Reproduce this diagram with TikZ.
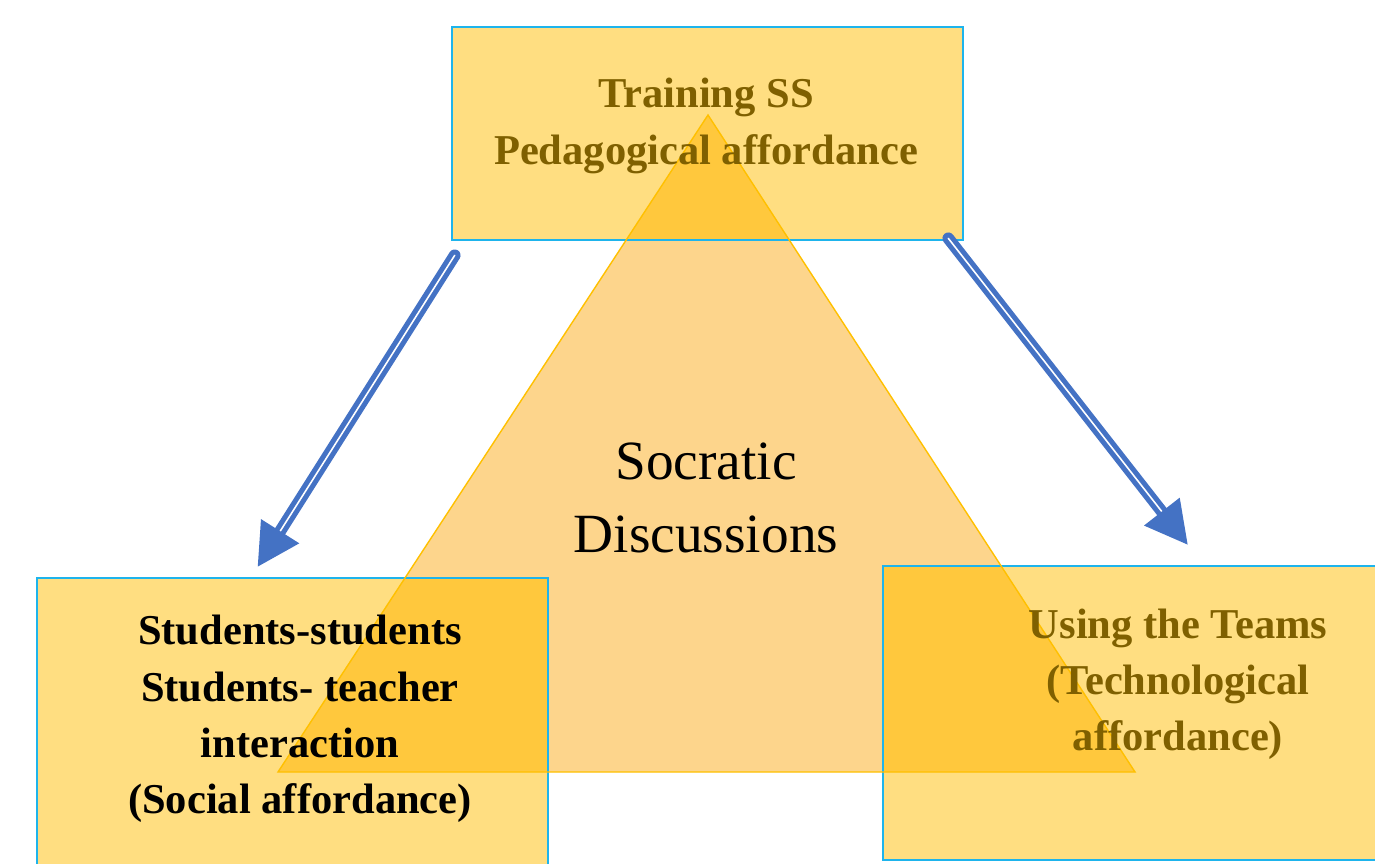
\documentclass[tikz,border=0pt]{standalone}
\usepackage{fontspec}
\setmainfont{Liberation Serif}
\usetikzlibrary{calc}
\usetikzlibrary{arrows.meta}
\definecolor{boxyellow}{HTML}{FFDE81}
\definecolor{trifill}{HTML}{FDD58C}
\definecolor{overlapfill}{HTML}{FFC83D}
\definecolor{triedge}{HTML}{FFC000}
\definecolor{boxedge}{HTML}{1EB4EC}
\definecolor{arrowblue}{HTML}{4472C4}
\definecolor{labelbrown}{HTML}{7F6000}
\tikzset{>=latex}

\begin{document}
\begin{tikzpicture}[x=0.02cm,y=-0.02cm,
		affbox/.style={fill=boxyellow,inner sep=0pt},
		boxtext/.style={font=\bfseries\fontsize{24.2}{32}\selectfont,align=center},
		flow/.style={draw=arrowblue,line width=2.9pt,double=white,double distance=0.9pt,line cap=round,
			-{Triangle[length=0.84cm,width=0.88cm]}}]
			\useasboundingbox (0,0) rectangle (1375,863);
			\clip (0,0) rectangle (1375,863);
			\coordinate (A) at (708,115);
			\coordinate (B) at (278,772);
			\coordinate (C) at (1135,772);
			\node[affbox,minimum width=10.22cm,minimum height=4.26cm] (ped) at (707.5,133.5) {};
			\node[affbox,minimum width=10.22cm,minimum height=6.24cm] (social) at (292.5,734) {};
			\node[affbox,minimum width=10.34cm,minimum height=5.88cm] (tech) at (1141.5,713) {};
			\fill[trifill] (A)--(B)--(C)--cycle;
			\begin{scope}
				\clip (A)--(B)--(C)--cycle;
				\foreach \b in {ped,social,tech}
					\fill[overlapfill] (\b.south west) rectangle (\b.north east);
			\end{scope}
			\foreach \b in {ped,social,tech}
				\draw[boxedge,line width=1pt] (\b.south west) rectangle (\b.north east);
			\draw[triedge,line width=0.8pt] (A)--(B)--(C)--cycle;
			
			\node[boxtext,text=labelbrown] (pedtxt) at (706,126) {Training SS\\Pedagogical affordance};
			\node[boxtext] (socialtxt) at (300,719) {Students-students\\Students- teacher\\interaction\\(Social affordance)};
			\node[boxtext,text=labelbrown] (techtxt) at (1178,684) {Using the Teams\\(Technological\\affordance)};
			\node[font=\fontsize{31.5}{41.5}\selectfont,align=center] (socratic) at (706,498) {Socratic\\Discussions};
			
			\draw[flow] ($(ped.south west)+(3,15)$)--($(social.north west)+(221,-11)$);
			\draw[flow] ($(ped.south east)+(-15,-2)$)--($(tech.north west)+(305,-21)$);
		\end{tikzpicture}
\end{document}
